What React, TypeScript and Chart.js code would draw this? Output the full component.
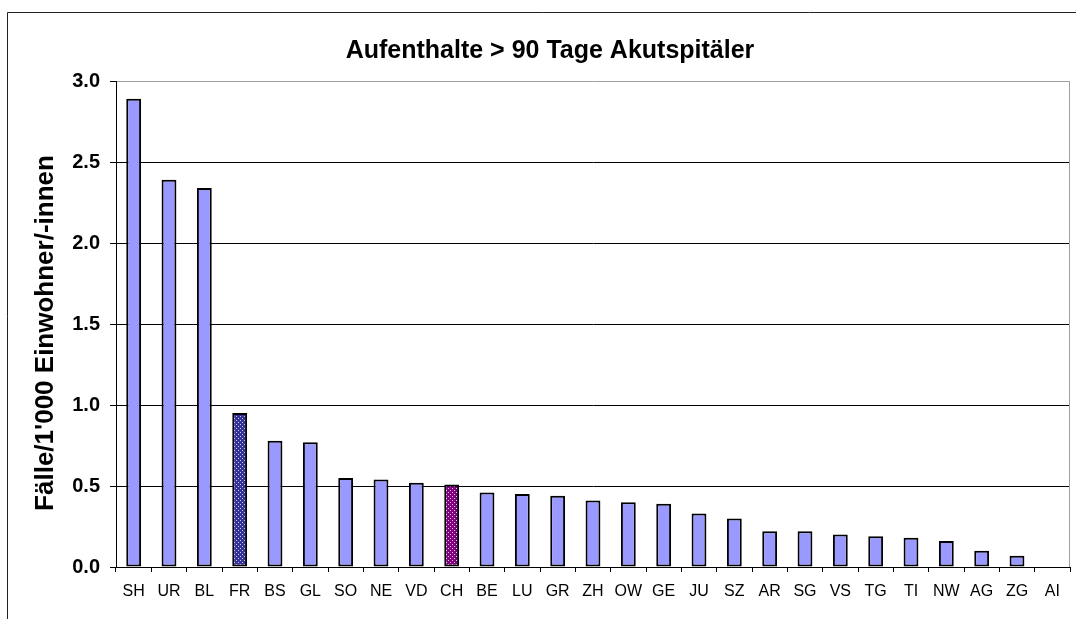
import React, { useEffect, useRef } from "react";
import { Chart, registerables } from "chart.js";

Chart.register(...registerables);

const categories = ["SH","UR","BL","FR","BS","GL","SO","NE","VD","CH","BE","LU","GR","ZH","OW","GE","JU","SZ","AR","SG","VS","TG","TI","NW","AG","ZG","AI"];
const values = [2.89,2.39,2.34,0.95,0.78,0.77,0.55,0.54,0.52,0.51,0.46,0.45,0.44,0.41,0.40,0.39,0.33,0.30,0.22,0.22,0.20,0.19,0.18,0.16,0.10,0.07,0];
const titleText = "Aufenthalte > 90 Tage Akutspitäler";
const yTitleText = "Fälle/1'000 Einwohner/-innen";

const FONT = "'Liberation Sans', Arial, sans-serif";

function makePattern(base: string, dot: string): CanvasPattern | string {
  const c = document.createElement("canvas");
  c.width = 4;
  c.height = 4;
  const g = c.getContext("2d");
  if (!g) return base;
  g.fillStyle = base;
  g.fillRect(0, 0, 4, 4);
  g.fillStyle = dot;
  g.fillRect(0, 0, 1, 1);
  g.fillRect(2, 2, 1, 1);
  const p = g.createPattern(c, "repeat");
  return p || base;
}

export default function App() {
  const ref = useRef<HTMLCanvasElement>(null);
  useEffect(() => {
    if (!ref.current) return;
    const frPat = makePattern("#333399", "#c8c8f0");
    const chPat = makePattern("#800080", "#f0c8f0");
    const colors = categories.map((c) => (c === "FR" ? frPat : c === "CH" ? chPat : "#9999ff"));
    const deco = {
      id: "deco",
      beforeDatasetsDraw(chart: any) {
        const { ctx, chartArea } = chart;
        ctx.save();
        ctx.strokeStyle = "#a0a0a0";
        ctx.lineWidth = 1;
        ctx.beginPath();
        ctx.moveTo(chartArea.right - 0.5, chartArea.top);
        ctx.lineTo(chartArea.right - 0.5, chartArea.bottom);
        ctx.stroke();
        ctx.restore();
      },
      afterDraw(chart: any) {
        const { ctx } = chart;
        ctx.save();
        ctx.strokeStyle = "#222";
        ctx.lineWidth = 1;
        ctx.beginPath();
        ctx.moveTo(7.5, 640);
        ctx.lineTo(7.5, 12.5);
        ctx.lineTo(1100, 12.5);
        ctx.stroke();
        ctx.fillStyle = "#000";
        ctx.font = `bold 25px ${FONT}`;
        ctx.textAlign = "center";
        ctx.textBaseline = "alphabetic";
        ctx.fillText(titleText, 550, 58);
        ctx.translate(53, 333);
        ctx.rotate(-Math.PI / 2);
        ctx.font = `bold 26px ${FONT}`;
        ctx.fillText(yTitleText, 0, 0);
        ctx.restore();
      },
    };
    const chart = new Chart(ref.current, {
      type: "bar",
      data: {
        labels: categories,
        datasets: [
          {
            data: values,
            backgroundColor: colors as any,
            borderColor: "#000",
            borderWidth: 2,
            borderSkipped: false,
            barPercentage: 0.42,
            categoryPercentage: 1,
          },
        ],
      },
      options: {
        responsive: false,
        animation: false,
        layout: { padding: { top: 81, left: 0, right: 6, bottom: 0 } },
        plugins: { legend: { display: false }, title: { display: false }, tooltip: { enabled: false } },
        scales: {
          x: {
            afterFit: (s: any) => { s.height = 52; },
            grid: { display: true, drawOnChartArea: false, offset: true, tickLength: 5, color: "#000", tickColor: "#000" },
            border: { display: true, color: "#000" },
            ticks: { color: "#000", font: { family: FONT, size: 16 }, padding: 10, maxRotation: 0, autoSkip: false },
          },
          y: {
            min: 0,
            max: 3,
            afterFit: (s: any) => { s.width = 116; },
            grid: {
              color: (c: any) => (c.tick && c.tick.value === 3 ? "#a0a0a0" : "#000"),
              tickColor: "#000",
              tickLength: 6,
            },
            border: { display: true, color: "#000" },
            ticks: {
              stepSize: 0.5,
              color: "#000",
              padding: 10,
              font: { family: FONT, size: 20, weight: "bold" },
              callback: (v: any) => Number(v).toFixed(1),
            },
          },
        },
      },
      plugins: [deco],
    });
    return () => chart.destroy();
  }, []);
  return (
    <canvas
      ref={ref}
      width={1076}
      height={619}
      style={{ position: "absolute", left: 0, top: 0, display: "block", width: 1076, height: 619 }}
    />
  );
}
